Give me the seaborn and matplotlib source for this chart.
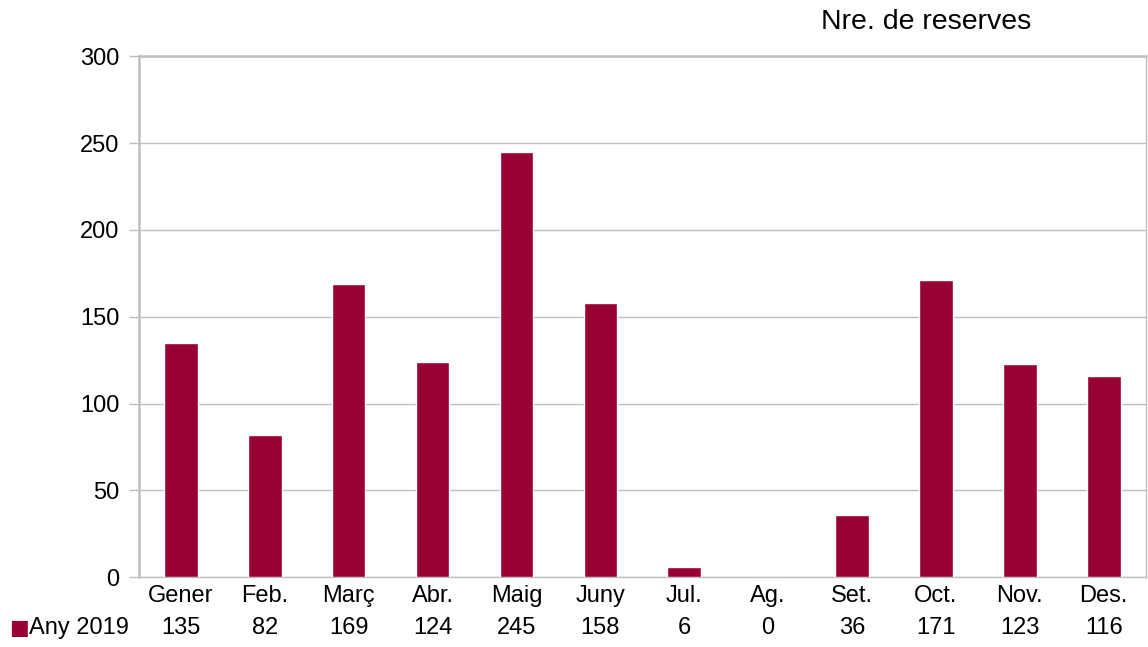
import matplotlib
matplotlib.use("Agg")
import matplotlib.pyplot as plt
import seaborn as sns
import pandas as pd

# dades
mesos = ["Gener", "Feb.", "Març", "Abr.", "Maig", "Juny", "Jul.", "Ag.", "Set.", "Oct.", "Nov.", "Des."]
reserves_2019 = [135, 82, 169, 124, 245, 158, 6, 0, 36, 171, 123, 116]
serie = "Any 2019"
titol = "Nre. de reserves"
color_barra = "#990033"
gris = "#bfbfbf"

sns.set_theme(style="white")
plt.rcParams['font.family'] = ['Liberation Sans', 'DejaVu Sans']
plt.rcParams['text.color'] = 'black'
plt.rcParams['xtick.color'] = 'black'
plt.rcParams['ytick.color'] = 'black'

df = pd.DataFrame({"mes": mesos, "reserves": reserves_2019})

fig = plt.figure(figsize=(11.48, 6.47), dpi=100)
ax = fig.add_axes([0.121, 0.108, 0.877, 0.805])

sns.barplot(data=df, x="mes", y="reserves", color=color_barra, width=0.4,
            saturation=1, ax=ax, zorder=3)

ax.set_ylim(0, 300)
ax.set_yticks(range(0, 301, 50))
ax.set_xlim(-0.5, len(mesos) - 0.5)
ax.grid(axis="y", color=gris, linewidth=1, zorder=0)
ax.set_xlabel("")
ax.set_ylabel("")

for s in ["top", "bottom", "right"]:
    ax.spines[s].set_color(gris)
    ax.spines[s].set_linewidth(1)
ax.spines["top"].set_linewidth(1.8)
ax.spines["left"].set_color(gris)
ax.spines["left"].set_linewidth(1.8)

mida = 17
ax.tick_params(axis="y", length=7, color=gris, width=1, labelsize=mida, pad=7,
               left=True, labelcolor="black")
ax.tick_params(axis="x", length=0, labelsize=mida, pad=6, labelcolor="black")

# taula de dades a sota
for i, v in enumerate(reserves_2019):
    ax.text(i, -0.098, str(v), transform=ax.get_xaxis_transform(),
            ha="center", va="center", fontsize=mida)
fig.text(0.0165, 0.0295, "\u25A0", color=color_barra, ha="center", va="center", fontsize=15,
         family=['DejaVu Sans'])
fig.text(0.0255, 0.0295, serie, ha="left", va="center", fontsize=mida)

fig.text(0.8066, 0.966, titol, ha="center", va="center", fontsize=20.5)

fig.savefig("out.png", dpi=100)
